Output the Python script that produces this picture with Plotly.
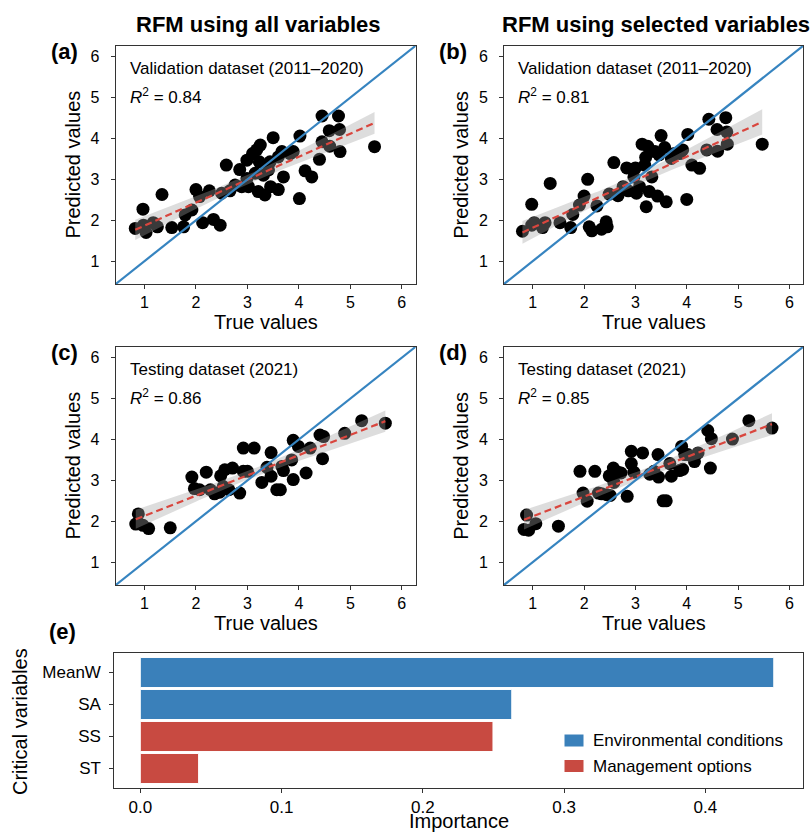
import numpy as np
import plotly.graph_objects as go

# ---------------- data ----------------
a_true = [0.82, 0.97, 0.98, 1.03, 1.17, 1.25, 1.34, 1.53, 1.76, 1.79, 1.92, 2.00, 2.07, 2.13, 2.26, 2.34,
          2.47, 2.50, 2.59, 2.66, 2.76, 2.85, 2.89, 2.99, 2.99, 3.02, 3.10, 3.15, 3.18, 3.21, 3.25, 3.23,
          3.31, 3.34, 3.41, 3.44, 3.45, 3.50, 3.60, 3.60, 3.67, 3.70, 3.83, 3.89, 4.01, 4.02, 4.12, 4.25,
          4.40, 4.45, 4.45, 4.59, 4.60, 4.77, 4.79, 4.80, 5.47]
a_pred = [1.80, 2.27, 1.88, 1.70, 1.94, 1.84, 2.63, 1.82, 1.84, 2.13, 2.25, 2.75, 2.58, 1.94, 2.72, 2.02,
          1.88, 2.66, 3.35, 2.72, 2.86, 3.24, 2.82, 3.47, 3.02, 2.82, 3.63, 3.15, 3.72, 2.70, 3.84, 3.43,
          3.10, 2.62, 3.23, 3.43, 2.82, 4.02, 2.75, 3.55, 3.68, 3.06, 3.63, 3.68, 2.53, 4.06, 3.21, 3.06,
          3.49, 3.92, 4.55, 4.19, 3.81, 4.55, 4.22, 3.68, 3.80]

b_true = [0.80, 0.98, 0.98, 1.03, 1.19, 1.24, 1.34, 1.53, 1.74, 1.78, 1.91, 2.00, 2.07, 2.10, 2.15, 2.25,
          2.34, 2.43, 2.45, 2.49, 2.58, 2.66, 2.76, 2.83, 2.86, 2.97, 3.00, 3.02, 3.08, 3.13, 3.18, 3.20,
          3.21, 3.24, 3.27, 3.32, 3.38, 3.43, 3.46, 3.50, 3.60, 3.57, 3.70, 3.76, 3.86, 3.92, 4.00, 4.02,
          4.10, 4.25, 4.39, 4.43, 4.59, 4.60, 4.76, 4.78, 4.79, 5.47]
b_pred = [1.73, 2.39, 1.88, 1.94, 1.82, 1.94, 2.90, 1.94, 1.82, 2.14, 2.37, 2.59, 3.00, 1.84, 1.74, 2.35,
          1.78, 1.96, 1.84, 2.64, 3.41, 2.60, 2.82, 3.28, 2.72, 3.06, 3.28, 2.66, 2.82, 3.86, 3.35, 3.54,
          2.33, 3.81, 2.70, 3.06, 3.68, 2.59, 3.60, 4.07, 2.45, 3.78, 3.51, 3.63, 3.63, 3.72, 2.51, 4.10,
          3.35, 3.27, 3.72, 4.47, 4.22, 3.69, 4.51, 4.16, 3.86, 3.86]

c_true = [0.83, 0.88, 0.97, 1.08, 1.50, 1.92, 1.97, 2.07, 2.20, 2.28, 2.36, 2.46, 2.48, 2.53, 2.56, 2.64,
          2.71, 2.85, 2.92, 2.92, 3.00, 3.13, 3.28, 3.38, 3.46, 3.46, 3.57, 3.64, 3.67, 3.70, 3.86, 3.89,
          3.89, 3.99, 4.14, 4.22, 4.41, 4.48, 4.46, 4.89, 5.22, 5.68]
c_pred = [1.93, 2.18, 1.90, 1.82, 1.84, 3.08, 2.80, 2.77, 3.20, 2.77, 2.67, 2.71, 3.11, 2.85, 3.26, 2.77,
          3.30, 2.69, 3.79, 3.22, 3.22, 3.79, 2.95, 3.32, 3.68, 3.10, 2.77, 2.77, 3.34, 3.24, 3.50, 3.98,
          3.02, 3.83, 3.18, 3.79, 4.11, 4.07, 3.53, 4.15, 4.46, 4.40]

d_true = [0.83, 0.88, 0.92, 1.06, 1.50, 1.92, 1.98, 2.06, 2.21, 2.28, 2.34, 2.44, 2.49, 2.51, 2.57, 2.58,
          2.66, 2.72, 2.84, 2.92, 2.92, 2.97, 3.14, 3.28, 3.36, 3.44, 3.45, 3.54, 3.60, 3.67, 3.70, 3.86,
          3.90, 3.92, 3.96, 4.02, 4.15, 4.22, 4.41, 4.48, 4.46, 4.89, 5.21, 5.66]
d_pred = [1.80, 2.15, 1.78, 1.94, 1.88, 3.22, 2.69, 2.49, 3.22, 2.69, 2.67, 2.65, 3.11, 2.63, 3.30, 2.95,
          3.20, 3.18, 2.61, 3.71, 3.41, 3.20, 3.67, 3.15, 3.22, 3.63, 3.08, 2.50, 2.50, 3.41, 3.10, 3.24,
          3.83, 3.27, 3.63, 3.63, 3.46, 3.67, 4.22, 4.02, 3.30, 4.01, 4.46, 4.28]

panel_labels = ["(a)", "(b)", "(c)", "(d)"]
dataset_labels = ["Validation dataset (2011\u20132020)", "Validation dataset (2011\u20132020)",
                  "Testing dataset (2021)", "Testing dataset (2021)"]
r2_values = ["0.84", "0.81", "0.86", "0.85"]
column_titles = ["RFM using all variables", "RFM using selected variables"]
scatter_ticks = [1, 2, 3, 4, 5, 6]

variables = ["MeanW", "SA", "SS", "ST"]
importance = [0.4485, 0.263, 0.2497, 0.0413]
var_group = ["Environmental conditions", "Environmental conditions", "Management options", "Management options"]
groups = ["Environmental conditions", "Management options"]
imp_ticks = [0.0, 0.1, 0.2, 0.3, 0.4]

# ---------------- style ----------------
W, H = 810, 834
FONT = "Arial, Liberation Sans, sans-serif"
BLUE_LINE = "#3684C0"
RED_DASH = "#D9463E"
BAR_COLORS = {"Environmental conditions": "#3A80BA", "Management options": "#C84A41"}
AX_RANGE = [0.44, 6.27]
FRAME = "#333333"


def px_x(p):
    return p / W


def px_y(p):
    return 1 - p / H


panels = [
    dict(x=a_true, y=a_pred, dom_x=(115.7, 415.7), dom_y=(45.7, 284.0)),
    dict(x=b_true, y=b_pred, dom_x=(504.0, 803.3), dom_y=(45.7, 284.0)),
    dict(x=c_true, y=c_pred, dom_x=(115.7, 415.7), dom_y=(346.7, 585.0)),
    dict(x=d_true, y=d_pred, dom_x=(504.0, 803.3), dom_y=(346.7, 585.0)),
]

fig = go.Figure()
annotations = []
shapes = []
layout_axes = {}
T95 = 2.0

for i, p in enumerate(panels):
    k = "" if i == 0 else str(i + 1)
    xa, ya = "x" + k, "y" + k
    x = np.array(p["x"], dtype=float)
    y = np.array(p["y"], dtype=float)
    # points
    fig.add_trace(go.Scatter(x=x, y=y, mode="markers", xaxis=xa, yaxis=ya, showlegend=False,
                             marker=dict(color="black", size=13, line=dict(width=0))))
    # regression with 95% CI
    slope, intercept = np.polyfit(x, y, 1)
    n = len(x)
    resid = y - (slope * x + intercept)
    s = np.sqrt(np.sum(resid ** 2) / (n - 2))
    xm = x.mean()
    sxx = np.sum((x - xm) ** 2)
    xs = np.linspace(x.min(), x.max(), 100)
    ys = slope * xs + intercept
    se = s * np.sqrt(1.0 / n + (xs - xm) ** 2 / sxx)
    up, lo = ys + T95 * se, ys - T95 * se
    fig.add_trace(go.Scatter(x=np.concatenate([xs, xs[::-1]]), y=np.concatenate([up, lo[::-1]]),
                             fill="toself", fillcolor="rgba(160,160,160,0.36)", line=dict(width=0),
                             mode="lines", xaxis=xa, yaxis=ya, showlegend=False, hoverinfo="skip"))
    fig.add_trace(go.Scatter(x=xs, y=ys, mode="lines", xaxis=xa, yaxis=ya, showlegend=False,
                             line=dict(color=RED_DASH, width=2.2, dash="7px,4px")))
    # 1:1 line
    fig.add_trace(go.Scatter(x=AX_RANGE, y=AX_RANGE, mode="lines", xaxis=xa, yaxis=ya, showlegend=False,
                             line=dict(color=BLUE_LINE, width=2.2)))

    common = dict(range=AX_RANGE, tickvals=scatter_ticks, ticks="outside", ticklen=4, tickwidth=1,
                  tickcolor=FRAME, showline=True, mirror=True, linecolor=FRAME, linewidth=1,
                  showgrid=False, zeroline=False, tickfont=dict(size=16, color="black", family=FONT))
    layout_axes["xaxis" + k] = dict(common, domain=[px_x(p["dom_x"][0]), px_x(p["dom_x"][1])],
                                    anchor=ya, ticklabelstandoff=0)
    layout_axes["yaxis" + k] = dict(common, domain=[px_y(p["dom_y"][1]), px_y(p["dom_y"][0])],
                                    anchor=xa, ticklabelstandoff=8)

    x0, x1 = p["dom_x"]
    y0, y1 = p["dom_y"]
    # inner texts
    annotations.append(dict(text=dataset_labels[i], x=px_x(x0 + 12), y=px_y(y0 + 23), xref="paper",
                            yref="paper", xanchor="left", yanchor="middle", showarrow=False,
                            font=dict(size=17, color="black", family=FONT)))
    annotations.append(dict(text="<i>R</i><sup>2</sup> = " + r2_values[i],
                            x=px_x(x0 + 12), y=px_y(y0 + 50),
                            xref="paper", yref="paper", xanchor="left", yanchor="middle", showarrow=False,
                            font=dict(size=17, color="black", family=FONT)))
    # axis titles
    annotations.append(dict(text="True values", x=px_x((x0 + x1) / 2), y=px_y(y1 + 38), xref="paper",
                            yref="paper", xanchor="center", yanchor="middle", showarrow=False,
                            font=dict(size=20, color="black", family=FONT)))
    annotations.append(dict(text="Predicted values", x=px_x(x0 - 43), y=px_y((y0 + y1) / 2), xref="paper",
                            yref="paper", xanchor="center", yanchor="middle", showarrow=False, textangle=-90,
                            font=dict(size=20, color="black", family=FONT)))
    # panel label
    annotations.append(dict(text="<b>" + panel_labels[i] + "</b>", x=px_x(x0 - 51), y=px_y(y0 + 6),
                            xref="paper", yref="paper", xanchor="center", yanchor="middle", showarrow=False,
                            font=dict(size=22, color="black", family=FONT)))

# column titles
for cx, t in zip([258, 656], column_titles):
    annotations.append(dict(text="<b>" + t + "</b>", x=px_x(cx), y=px_y(24), xref="paper", yref="paper",
                            xanchor="center", yanchor="middle", showarrow=False,
                            font=dict(size=22, color="black", family=FONT)))

# ---------------- panel (e) ----------------
for grp in groups:
    idx = [j for j, g in enumerate(var_group) if g == grp]
    fig.add_trace(go.Bar(x=[importance[j] for j in idx], y=[variables[j] for j in idx], orientation="h",
                         name=grp, xaxis="x5", yaxis="y5", width=0.94, showlegend=False,
                         marker=dict(color=BAR_COLORS[grp], line=dict(color="white", width=1))))

e_dx, e_dy = (114.3, 803.3), (653.3, 787.7)
layout_axes["xaxis5"] = dict(domain=[px_x(e_dx[0]), px_x(e_dx[1])], anchor="y5", range=[-0.0184, 0.4694],
                             tickvals=imp_ticks, ticktext=["%.1f" % v for v in imp_ticks], ticks="outside",
                             ticklen=4, tickcolor=FRAME, showline=True, mirror=True, linecolor=FRAME,
                             linewidth=1, showgrid=False, zeroline=False, ticklabelstandoff=0,
                             tickfont=dict(size=17, color="black", family=FONT))
layout_axes["yaxis5"] = dict(domain=[px_y(e_dy[1]), px_y(e_dy[0])], anchor="x5", type="category",
                             categoryorder="array", categoryarray=variables[::-1], range=[-0.6, 3.6],
                             ticks="outside", ticklen=4, tickcolor=FRAME, showline=True, mirror=True,
                             linecolor=FRAME, linewidth=1, showgrid=False, zeroline=False, ticklabelstandoff=5,
                             tickfont=dict(size=17, color="black", family=FONT))

# legend (key swatches + labels)
for gi, grp in enumerate(groups):
    cy = 740.5 + gi * 25.5
    shapes.append(dict(type="rect", xref="paper", yref="paper", x0=px_x(564), x1=px_x(584),
                       y0=px_y(cy + 6.5), y1=px_y(cy - 6.5), fillcolor=BAR_COLORS[grp],
                       line=dict(color="white", width=1)))
    annotations.append(dict(text=grp, x=px_x(591), y=px_y(cy), xref="paper", yref="paper",
                            xanchor="left", yanchor="middle", showarrow=False,
                            font=dict(size=17, color="black", family=FONT)))

annotations.append(dict(text="<b>(e)</b>", x=px_x(62), y=px_y(631), xref="paper", yref="paper",
                        xanchor="center", yanchor="middle", showarrow=False,
                        font=dict(size=22, color="black", family=FONT)))
annotations.append(dict(text="Critical variables", x=px_x(20), y=px_y(722), xref="paper", yref="paper",
                        xanchor="center", yanchor="middle", showarrow=False, textangle=-90,
                        font=dict(size=20, color="black", family=FONT)))
annotations.append(dict(text="Importance", x=px_x(459), y=px_y(821), xref="paper", yref="paper",
                        xanchor="center", yanchor="middle", showarrow=False,
                        font=dict(size=20, color="black", family=FONT)))

fig.update_layout(
    width=W, height=H, margin=dict(l=0, r=0, t=0, b=0),
    paper_bgcolor="white", plot_bgcolor="white",
    font=dict(family=FONT, color="black"),
    annotations=annotations, shapes=shapes,
    showlegend=False,
    **layout_axes,
)

fig.write_html("out.html", config={"displayModeBar": False},
               post_script="document.body.style.margin='0';document.body.style.padding='0';")
